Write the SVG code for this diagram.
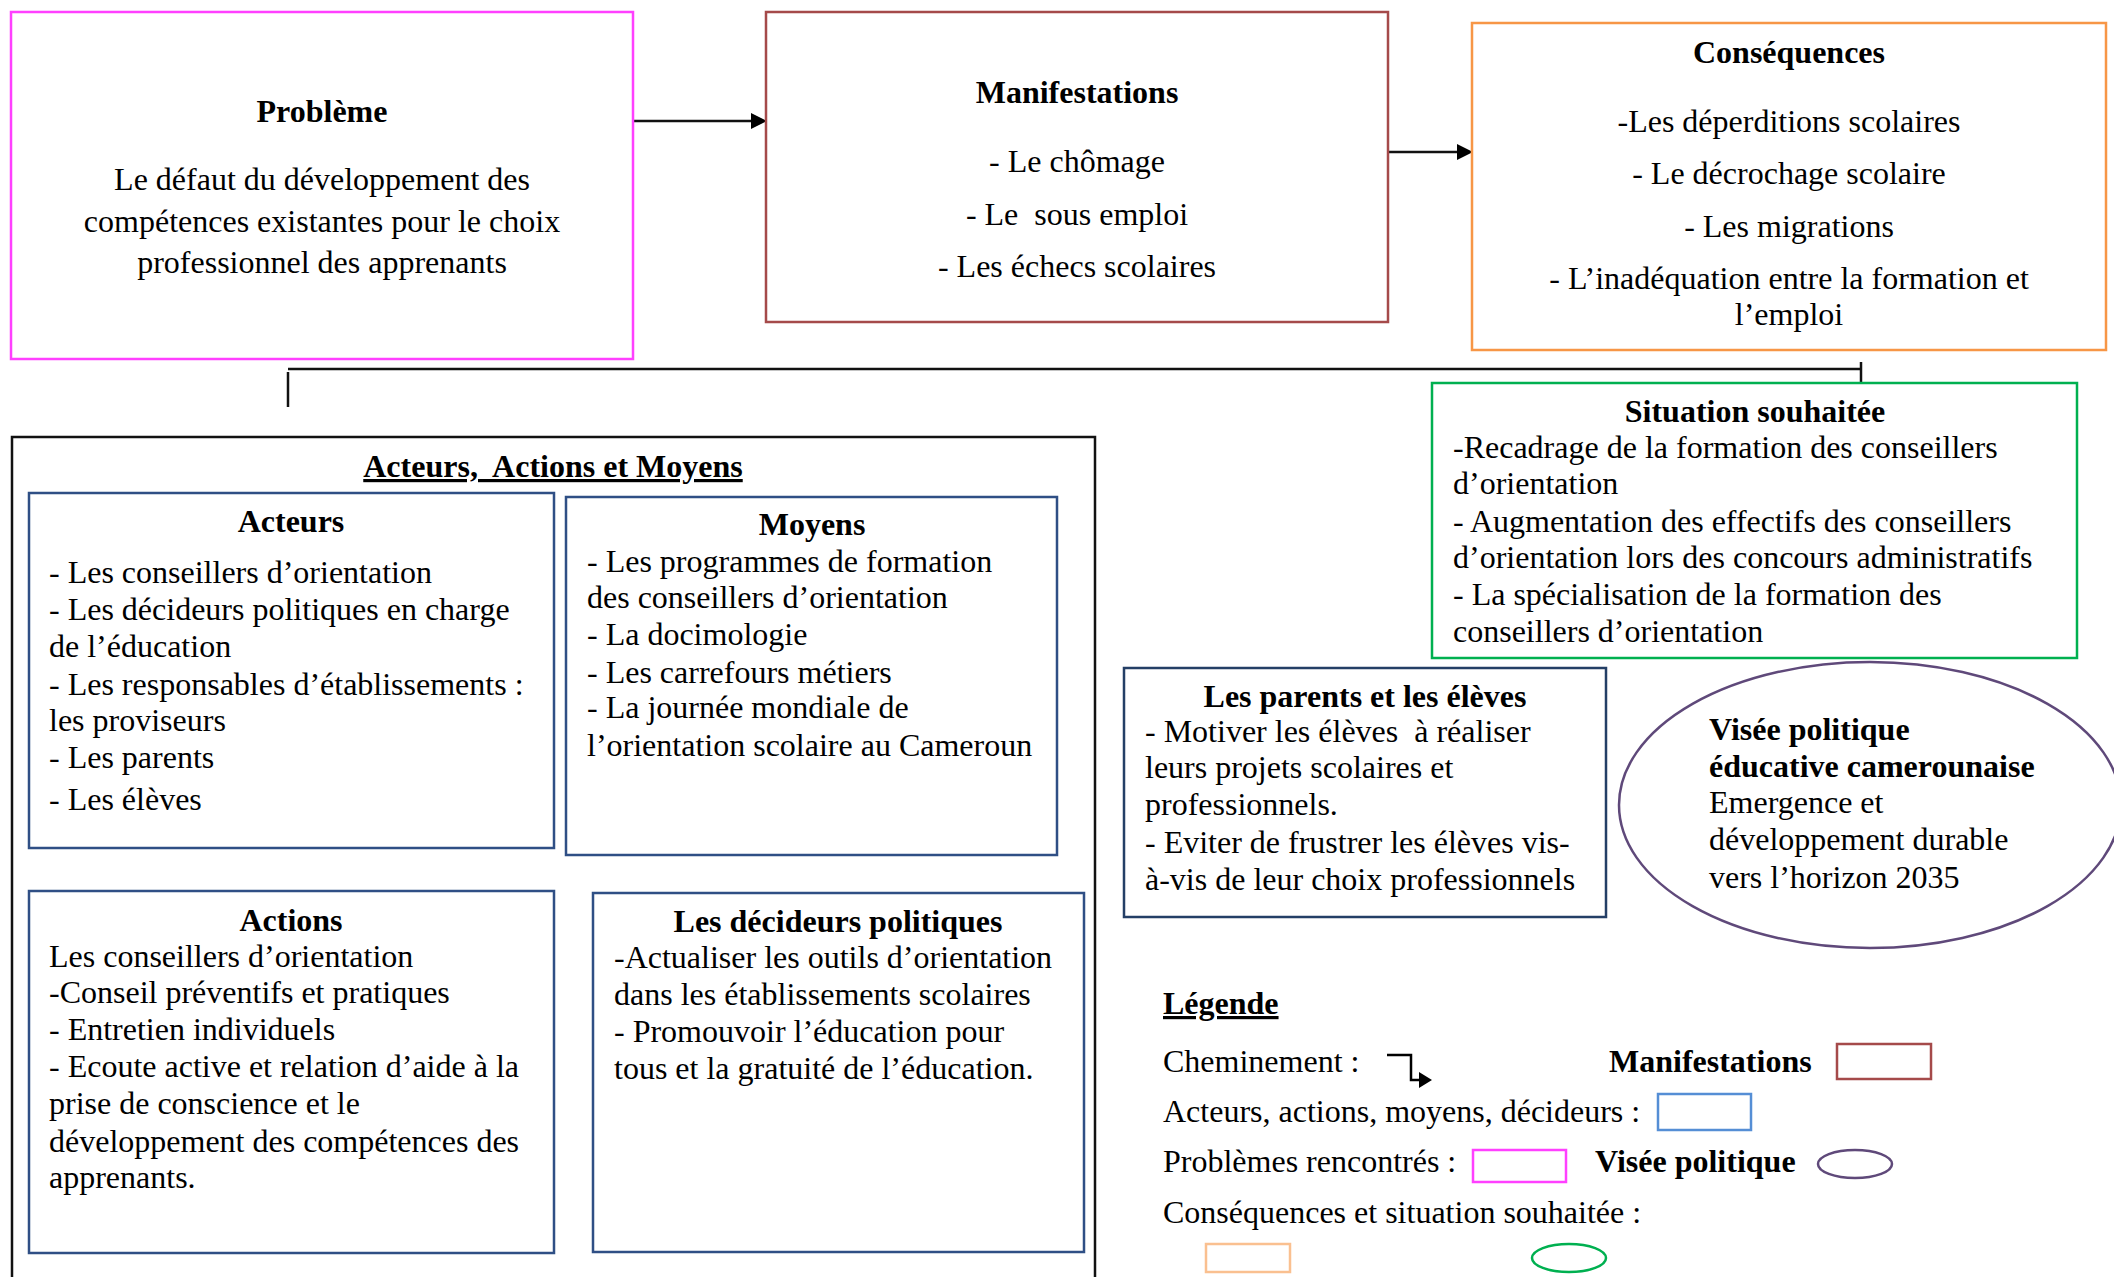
<svg xmlns="http://www.w3.org/2000/svg" width="2114" height="1277" viewBox="0 0 2114 1277">
<defs>
<style>
text { font-family: "Liberation Serif", "Times New Roman", serif; font-size: 32px; fill: #000; white-space: pre; }
.b { font-weight: bold; }
.c { text-anchor: middle; }
.u { text-decoration: underline; }
.box { fill: #fff; stroke-width: 2.5; }
.blue { stroke: #2f4f85; }
.conn { stroke: #111; stroke-width: 2.5; fill: none; }
</style>
<marker id="ah" viewBox="0 0 10 10" refX="0" refY="5" markerWidth="16" markerHeight="16" markerUnits="userSpaceOnUse" orient="auto">
<path d="M0,0 L10,5 L0,10 Z" fill="#000"/>
</marker>
</defs>
<rect width="2114" height="1277" fill="#fff"/>

<g id="connectors">
<line class="conn" x1="633" y1="121" x2="751" y2="121" marker-end="url(#ah)"/>
<line class="conn" x1="1388" y1="152" x2="1457" y2="152" marker-end="url(#ah)"/>
<line class="conn" x1="288" y1="369" x2="1861" y2="369" stroke-width="2"/>
<line class="conn" x1="288" y1="372" x2="288" y2="407" stroke-width="2"/>
<line class="conn" x1="1861" y1="362" x2="1861" y2="398" stroke-width="2"/>
</g>

<g id="probleme">
<rect class="box" x="11" y="12" width="622" height="347" stroke="#ff40ff"/>
<text class="b c" x="322" y="122">Problème</text>
<text class="c" x="322" y="190">Le défaut du développement des</text>
<text class="c" x="322" y="232">compétences existantes pour le choix</text>
<text class="c" x="322" y="273">professionnel des apprenants</text>
</g>

<g id="manifestations">
<rect class="box" x="766" y="12" width="622" height="310" stroke="#a54a4a"/>
<text class="b c" x="1077" y="103">Manifestations</text>
<text class="c" x="1077" y="172">- Le chômage</text>
<text class="c" x="1077" y="225">- Le  sous emploi</text>
<text class="c" x="1077" y="277">- Les échecs scolaires</text>
</g>

<g id="consequences">
<rect class="box" x="1472" y="23" width="634" height="327" stroke="#f79646"/>
<text class="b c" x="1789" y="63">Conséquences</text>
<text class="c" x="1789" y="132">-Les déperditions scolaires</text>
<text class="c" x="1789" y="184">- Le décrochage scolaire</text>
<text class="c" x="1789" y="237">- Les migrations</text>
<text class="c" x="1789" y="289">- L’inadéquation entre la formation et</text>
<text class="c" x="1789" y="325">l’emploi</text>
</g>

<g id="situation">
<rect class="box" x="1432" y="383" width="645" height="275" stroke="#00b050"/>
<text class="b c" x="1755" y="422">Situation souhaitée</text>
<text x="1453" y="458">-Recadrage de la formation des conseillers</text>
<text x="1453" y="494">d’orientation</text>
<text x="1453" y="532">- Augmentation des effectifs des conseillers</text>
<text x="1453" y="568">d’orientation lors des concours administratifs</text>
<text x="1453" y="605">- La spécialisation de la formation des</text>
<text x="1453" y="642">conseillers d’orientation</text>
</g>

<g id="acteurs-actions-moyens">
<path d="M12,1290 V437 H1095 V1290" fill="none" stroke="#111" stroke-width="2.5"/>
<text class="b c u" x="553" y="477">Acteurs,  Actions et Moyens</text>
</g>

<g id="acteurs">
<rect class="box blue" x="29" y="493" width="525" height="355"/>
<text class="b c" x="291" y="532">Acteurs</text>
<text x="49" y="583">- Les conseillers d’orientation</text>
<text x="49" y="620">- Les décideurs politiques en charge</text>
<text x="49" y="657">de l’éducation</text>
<text x="49" y="695">- Les responsables d’établissements :</text>
<text x="49" y="731">les proviseurs</text>
<text x="49" y="768">- Les parents</text>
<text x="49" y="810">- Les élèves</text>
</g>

<g id="moyens">
<rect class="box blue" x="566" y="497" width="491" height="358"/>
<text class="b c" x="812" y="535">Moyens</text>
<text x="587" y="572">- Les programmes de formation</text>
<text x="587" y="608">des conseillers d’orientation</text>
<text x="587" y="645">- La docimologie</text>
<text x="587" y="683">- Les carrefours métiers</text>
<text x="587" y="718">- La journée mondiale de</text>
<text x="587" y="756">l’orientation scolaire au Cameroun</text>
</g>

<g id="actions">
<rect class="box blue" x="29" y="891" width="525" height="362"/>
<text class="b c" x="291" y="931">Actions</text>
<text x="49" y="967">Les conseillers d’orientation</text>
<text x="49" y="1003">-Conseil préventifs et pratiques</text>
<text x="49" y="1040">- Entretien individuels</text>
<text x="49" y="1077">- Ecoute active et relation d’aide à la</text>
<text x="49" y="1114">prise de conscience et le</text>
<text x="49" y="1152">développement des compétences des</text>
<text x="49" y="1188">apprenants.</text>
</g>

<g id="decideurs">
<rect class="box blue" x="593" y="893" width="491" height="359"/>
<text class="b c" x="838" y="932">Les décideurs politiques</text>
<text x="614" y="968">-Actualiser les outils d’orientation</text>
<text x="614" y="1005">dans les établissements scolaires</text>
<text x="614" y="1042">- Promouvoir l’éducation pour</text>
<text x="614" y="1079">tous et la gratuité de l’éducation.</text>
</g>

<g id="parents-eleves">
<rect class="box" x="1124" y="668" width="482" height="249" stroke="#243f66"/>
<text class="b c" x="1365" y="707">Les parents et les élèves</text>
<text x="1145" y="742">- Motiver les élèves  à réaliser</text>
<text x="1145" y="778">leurs projets scolaires et</text>
<text x="1145" y="815">professionnels.</text>
<text x="1145" y="853">- Eviter de frustrer les élèves vis-</text>
<text x="1145" y="890">à-vis de leur choix professionnels</text>
</g>

<g id="visee-politique">
<ellipse cx="1870" cy="805" rx="251" ry="143" fill="#fff" stroke="#5f497a" stroke-width="2.5"/>
<text class="b" x="1709" y="740">Visée politique</text>
<text class="b" x="1709" y="777">éducative camerounaise</text>
<text x="1709" y="813">Emergence et</text>
<text x="1709" y="850">développement durable</text>
<text x="1709" y="888">vers l’horizon 2035</text>
</g>

<g id="legende">
<text class="b u" x="1163" y="1014">Légende</text>
<text x="1163" y="1072">Cheminement :</text>
<path d="M1387,1055 H1411 V1080 H1420" fill="none" stroke="#000" stroke-width="2.5"/>
<path d="M1419,1072 L1432,1080 L1419,1088 Z" fill="#000"/>
<text class="b" x="1609" y="1072">Manifestations</text>
<rect x="1837" y="1044" width="94" height="35" fill="#fff" stroke="#a54a4a" stroke-width="2.5"/>
<text x="1163" y="1122">Acteurs, actions, moyens, décideurs :</text>
<rect x="1658" y="1094" width="93" height="36" fill="#fff" stroke="#558ed5" stroke-width="2.5"/>
<text x="1163" y="1172">Problèmes rencontrés :</text>
<rect x="1473" y="1150" width="93" height="32" fill="#fff" stroke="#ff40ff" stroke-width="2.5"/>
<text class="b" x="1595" y="1172">Visée politique</text>
<ellipse cx="1855" cy="1164" rx="37" ry="14" fill="#fff" stroke="#5f497a" stroke-width="2.5"/>
<text x="1163" y="1223">Conséquences et situation souhaitée :</text>
<rect x="1206" y="1244" width="84" height="28" fill="#fff" stroke="#fac090" stroke-width="2.5"/>
<ellipse cx="1569" cy="1258" rx="37" ry="14" fill="#fff" stroke="#00b050" stroke-width="2.5"/>
</g>
</svg>
